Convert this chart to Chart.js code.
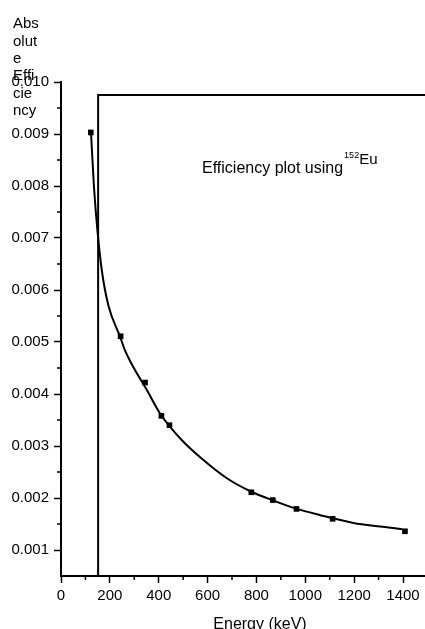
<!DOCTYPE html>
<html>
<head>
<meta charset="utf-8">
<script src="https://cdn.jsdelivr.net/npm/chart.js@4.4.0/dist/chart.umd.min.js"></script>
<style>
    html, body { margin: 0; padding: 0; background: #fff; }
    #wrap { width: 425px; height: 629px; }
</style>
</head>
<body>
<div id="wrap"><canvas id="effChart" width="425" height="629"></canvas></div>
<script>
// measured 152Eu peaks
const energies = [122, 244, 344, 411, 444, 779, 867, 964, 1112, 1408];
const efficiencies = [0.00903, 0.00511, 0.00422, 0.00358, 0.00340, 0.00211, 0.00196, 0.00179, 0.00160, 0.00136];

// fitted curve
const fitEnergies = [123, 135, 149, 167, 194, 242, 262, 296, 351, 406, 495, 583, 679, 775, 870, 959, 1061, 1197, 1307, 1397];
const fitEfficiencies = [0.00901, 0.00798, 0.00715, 0.00638, 0.00570, 0.00510, 0.00484, 0.00452, 0.00408, 0.00362,
    0.00311, 0.00273, 0.00238, 0.00213, 0.00195, 0.00180, 0.00167, 0.00152, 0.00145, 0.00140];

// open frame line over the plot
const frameEnergies = [152, 152, 1490];
const frameEfficiencies = [0.0005, 0.00975, 0.00975];

const xTicks = [0, 200, 400, 600, 800, 1000, 1200, 1400];
const xMinorTicks = [100, 300, 500, 700, 900, 1100, 1300];
const yTicks = [0.001, 0.002, 0.003, 0.004, 0.005, 0.006, 0.007, 0.008, 0.009, 0.010];
const yMinorTicks = [0.0015, 0.0025, 0.0035, 0.0045, 0.0055, 0.0065, 0.0075, 0.0085, 0.0095];

const yTitleLines = ['Abs', 'olut', 'e', 'Effi', 'cie', 'ncy'];
const xTitle = 'Energy (keV)';
const plotTitle = 'Efficiency plot using';
const isotopeMass = '152';
const isotopeName = 'Eu';

const FONT = '"Liberation Sans", Arial, sans-serif';

function toPoints(xs, ys) {
    return xs.map((x, i) => ({ x: x, y: ys[i] }));
}

function strokeLine(ctx, x1, y1, x2, y2) {
    ctx.beginPath();
    ctx.moveTo(x1, y1);
    ctx.lineTo(x2, y2);
    ctx.stroke();
}

// minor ticks and the loose texts
const decorations = {
    id: 'decorations',
    afterDraw(chart) {
        const ctx = chart.ctx;
        const xs = chart.scales.x;
        const ys = chart.scales.y;
        ctx.save();
        ctx.strokeStyle = '#000';
        ctx.lineWidth = 1.5;
        xMinorTicks.forEach(v => {
            const px = xs.getPixelForValue(v);
            strokeLine(ctx, px, xs.top, px, xs.top + 4);
        });
        yMinorTicks.forEach(v => {
            const py = ys.getPixelForValue(v);
            strokeLine(ctx, ys.right - 4, py, ys.right, py);
        });

        ctx.fillStyle = '#000';
        ctx.textBaseline = 'middle';
        ctx.textAlign = 'left';
        ctx.font = '15px ' + FONT;
        yTitleLines.forEach((line, i) => {
            ctx.fillText(line, 13, 24 + i * 17.4);
        });

        ctx.textBaseline = 'alphabetic';
        ctx.textAlign = 'center';
        ctx.font = '16px ' + FONT;
        ctx.fillText(xTitle, 260, 629);

        ctx.textAlign = 'left';
        ctx.fillText(plotTitle, 202, 173);
        const titleEnd = 202 + ctx.measureText(plotTitle).width;
        ctx.font = '9px ' + FONT;
        ctx.fillText(isotopeMass, titleEnd + 1, 158);
        const massEnd = titleEnd + 1 + ctx.measureText(isotopeMass).width;
        ctx.font = '15px ' + FONT;
        ctx.fillText(isotopeName, massEnd, 164);
        ctx.restore();
    }
};

const ctx = document.getElementById('effChart').getContext('2d');

const config = {
    type: 'scatter',
    data: {
        datasets: [
            {
                label: 'data',
                data: toPoints(energies, efficiencies),
                pointStyle: 'rect',
                pointRadius: 4,
                pointBorderWidth: 0,
                pointBackgroundColor: '#000',
                showLine: false
            },
            {
                label: 'fit',
                data: toPoints(fitEnergies, fitEfficiencies),
                showLine: true,
                borderColor: '#000',
                borderWidth: 2,
                pointRadius: 0,
                cubicInterpolationMode: 'monotone',
                fill: false
            },
            {
                label: 'frame',
                data: toPoints(frameEnergies, frameEfficiencies),
                showLine: true,
                borderColor: '#000',
                borderWidth: 2,
                pointRadius: 0,
                tension: 0,
                fill: false
            }
        ]
    },
    options: {
        responsive: false,
        animation: false,
        layout: { autoPadding: false, padding: { top: 82, right: 0, left: 0, bottom: 0 } },
        plugins: {
            legend: { display: false },
            tooltip: { enabled: false }
        },
        scales: {
            x: {
                type: 'linear',
                min: 0,
                max: 1490,
                afterBuildTicks: scale => { scale.ticks = xTicks.map(v => ({ value: v })); },
                afterFit: scale => {
                    scale.height = 53;
                    scale.paddingLeft = 0;
                    scale.paddingRight = 0;
                },
                border: { display: true, color: '#000', width: 2 },
                grid: { drawOnChartArea: false, drawTicks: true, tickLength: 7, tickColor: '#000', tickWidth: 1.5 },
                ticks: {
                    color: '#000',
                    padding: 4,
                    maxRotation: 0,
                    font: { family: FONT, size: 15 },
                    callback: v => String(v)
                }
            },
            y: {
                type: 'linear',
                min: 0.0005,
                max: 0.010,
                afterBuildTicks: scale => { scale.ticks = yTicks.map(v => ({ value: v })); },
                afterFit: scale => {
                    scale.width = 61;
                    scale.paddingTop = 0;
                    scale.paddingBottom = 0;
                },
                border: { display: true, color: '#000', width: 2 },
                grid: { drawOnChartArea: false, drawTicks: true, tickLength: 7, tickColor: '#000', tickWidth: 1.5 },
                ticks: {
                    color: '#000',
                    padding: 5,
                    font: { family: FONT, size: 15 },
                    callback: v => v.toFixed(3)
                }
            }
        }
    },
    plugins: [decorations]
};

new Chart(ctx, config);
</script>
</body>
</html>
